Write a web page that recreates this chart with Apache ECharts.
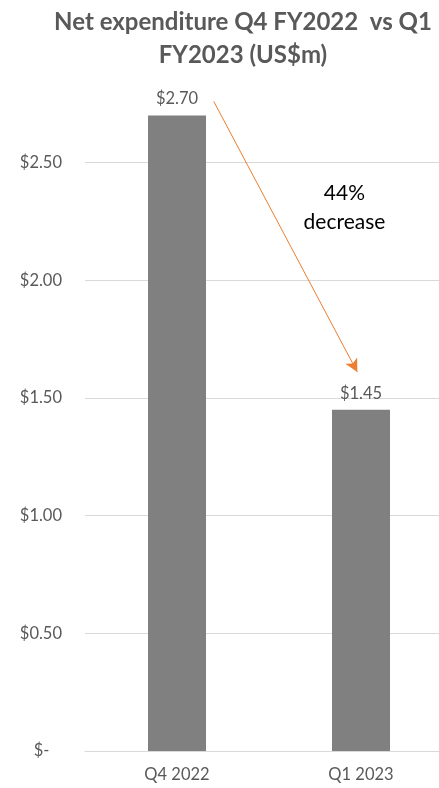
<!DOCTYPE html>
<html>
<head>
<meta charset="utf-8">
<script src="https://cdn.jsdelivr.net/npm/echarts@6/dist/echarts.min.js"></script>
<style>
  html, body { margin: 0; padding: 0; background: #fff; }
  #main { width: 439px; height: 788px; }
</style>
</head>
<body>
<div id="main"></div>
<script>
const categories = ['Q4 2022', 'Q1 2023'];
const values = [2.70, 1.45];
const valueLabels = ['$2.70', '$1.45'];
// arrow from first bar towards second, in [category position, value]
const arrowFrom = [0.20, 2.76];
const arrowTo = [0.98, 1.61];
const noteAt = [0.91, 2.31];
const noteText = '44%\ndecrease';

const FontFamily = 'Lato, "Noto Sans", sans-serif';
const TextGray = '#595959';

var chart = echarts.init(document.getElementById('main'));

function fmtAxis(v) {
  if (v === 0) return '$-   ';
  return '$' + v.toFixed(2);
}

var option = {
  animation: false,
  backgroundColor: '#ffffff',
  title: {
    text: 'Net expenditure Q4 FY2022  vs Q1\nFY2023 (US$m)',
    left: 238,
    top: 1,
    textAlign: 'center',
    textStyle: {
      color: TextGray,
      fontFamily: FontFamily,
      fontWeight: 'bold',
      fontSize: 24,
      lineHeight: 33
    }
  },
  grid: {
    left: 85,
    width: 368,
    top: 45,
    bottom: 37,
    outerBoundsMode: 'none'
  },
  xAxis: [{
    type: 'category',
    data: categories,
    axisLine: { lineStyle: { color: '#d9d9d9', width: 1 } },
    axisTick: { show: false },
    axisLabel: {
      color: TextGray,
      fontFamily: FontFamily,
      fontSize: 16.5,
      margin: 15
    }
  }, {
    type: 'value',
    min: -0.5,
    max: 1.5,
    show: false
  }],
  yAxis: {
    type: 'value',
    min: 0,
    max: 3,
    interval: 0.5,
    axisLine: { show: false },
    axisTick: { show: false },
    splitLine: {
      showMaxLine: false,
      lineStyle: { color: '#d9d9d9', width: 1 }
    },
    axisLabel: {
      showMaxLabel: false,
      color: TextGray,
      fontFamily: FontFamily,
      fontSize: 16.5,
      margin: 23,
      formatter: fmtAxis
    }
  },
  series: [{
    type: 'bar',
    data: values,
    barWidth: 58,
    itemStyle: { color: '#808080' },
    label: {
      show: true,
      position: 'top',
      distance: 8,
      color: TextGray,
      fontFamily: FontFamily,
      fontSize: 16.5,
      formatter: function (p) { return valueLabels[p.dataIndex]; }
    }
  }, {
    type: 'line',
    xAxisIndex: 1,
    data: [],
    markLine: {
      silent: true,
      symbol: ['none', 'arrow'],
      symbolSize: [10, 13],
      label: { show: false },
      lineStyle: { color: '#ED7D31', width: 1, type: 'solid' },
      data: [[{ coord: arrowFrom }, { coord: arrowTo }]]
    },
    markPoint: {
      silent: true,
      symbol: 'circle',
      symbolSize: 0,
      label: {
        show: true,
        position: 'inside',
        color: '#000000',
        fontFamily: FontFamily,
        fontSize: 21,
        lineHeight: 29,
        align: 'center',
        formatter: noteText
      },
      data: [{ coord: noteAt }]
    }
  }]
};

chart.setOption(option);
</script>
</body>
</html>
